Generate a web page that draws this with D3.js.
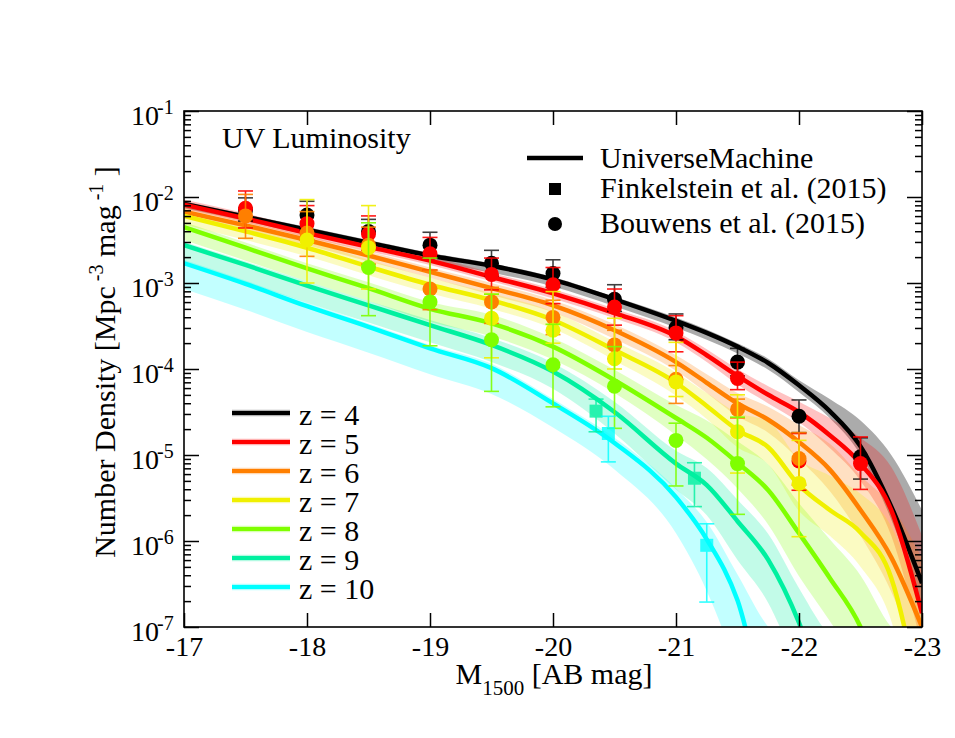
<!DOCTYPE html>
<html>
<head>
<meta charset="utf-8">
<script src="https://cdn.jsdelivr.net/npm/d3@7"></script>
<style>
  body { margin: 0; background: #fff; }
  text { font-family: "Liberation Serif", "Times New Roman", serif; fill: #000; }
</style>
</head>
<body>
<div id="vis"></div>
<script>
// frame constants
const FRAME_WIDTH = 955;
const FRAME_HEIGHT = 738;
const MARGINS = {left: 184, right: 33, top: 111, bottom: 111};
const VIS_WIDTH = FRAME_WIDTH - MARGINS.left - MARGINS.right;
const VIS_HEIGHT = FRAME_HEIGHT - MARGINS.top - MARGINS.bottom;

// redshifts and their colours
const REDSHIFTS = [4, 5, 6, 7, 8, 9, 10];
const COLORS = ["#000000", "#ff0000", "#ff7f00", "#f0f000", "#7fff00", "#00f0a0", "#00ffff"];

// magnitude grid of the model curves
const MAG_GRID = [-17, -17.5, -18, -18.5, -19, -19.5, -20, -20.5, -21, -21.25, -21.5, -21.75, -22, -22.25, -22.5, -22.75, -23];

// model curves, log10 number density
const MODEL_Z4  = [-2.08, -2.23, -2.38, -2.53, -2.68, -2.80, -2.96, -3.19, -3.44, -3.58, -3.74, -3.93, -4.19, -4.49, -4.90, -5.60, -6.49];
const MODEL_Z5  = [-2.09, -2.25, -2.42, -2.58, -2.74, -2.93, -3.12, -3.35, -3.62, -3.84, -4.08, -4.30, -4.50, -4.77, -5.10, -5.64, -6.84];
const MODEL_Z6  = [-2.17, -2.33, -2.50, -2.68, -2.87, -3.06, -3.26, -3.55, -3.92, -4.16, -4.40, -4.59, -4.85, -5.17, -5.64, -6.19, -7.00];
const MODEL_Z7  = [-2.22, -2.40, -2.59, -2.81, -3.02, -3.20, -3.43, -3.78, -4.16, -4.43, -4.71, -4.91, -5.35, -5.64, -5.90, -6.43, -8.00];
const MODEL_Z8  = [-2.35, -2.59, -2.83, -3.06, -3.30, -3.47, -3.74, -4.13, -4.57, -4.80, -5.09, -5.41, -5.91, -6.43, -7.00, -8.00, -8.50];
const MODEL_Z9  = [-2.56, -2.79, -3.03, -3.26, -3.49, -3.72, -4.03, -4.50, -5.10, -5.35, -5.77, -6.22, -6.95, -8.00, -8.50, -9.00, -9.50];
const MODEL_Z10 = [-2.77, -3.01, -3.27, -3.51, -3.76, -3.99, -4.40, -4.86, -5.49, -5.98, -6.69, -8.00, -8.50, -9.00, -9.50, -10.0, -10.5];
const MODELS = [MODEL_Z4, MODEL_Z5, MODEL_Z6, MODEL_Z7, MODEL_Z8, MODEL_Z9, MODEL_Z10];

// model uncertainty, dex above / below the curve
const BAND_UP = [
  [0.03, 0.03, 0.03, 0.03, 0.03, 0.03, 0.03, 0.03, 0.04, 0.04, 0.04, 0.05, 0.06, 0.14, 0.30, 0.60, 0.85],
  [0.06, 0.06, 0.05, 0.05, 0.05, 0.05, 0.05, 0.05, 0.06, 0.07, 0.08, 0.10, 0.12, 0.20, 0.30, 0.50, 0.90],
  [0.05, 0.05, 0.05, 0.05, 0.05, 0.06, 0.06, 0.07, 0.08, 0.10, 0.12, 0.15, 0.20, 0.30, 0.40, 0.60, 0.80],
  [0.08, 0.08, 0.08, 0.08, 0.08, 0.08, 0.10, 0.10, 0.12, 0.15, 0.20, 0.30, 0.30, 0.40, 0.45, 0.60, 1.20],
  [0.06, 0.06, 0.06, 0.07, 0.08, 0.10, 0.10, 0.12, 0.15, 0.20, 0.25, 0.30, 0.35, 0.45, 0.60, 1.00, 1.30],
  [0.04, 0.04, 0.05, 0.05, 0.06, 0.08, 0.10, 0.12, 0.15, 0.20, 0.25, 0.30, 0.40, 0.90, 1.20, 1.20, 1.20],
  [0.04, 0.04, 0.04, 0.04, 0.04, 0.05, 0.05, 0.06, 0.10, 0.20, 0.30, 1.00, 1.20, 1.20, 1.20, 1.20, 1.20]
];
const BAND_DN = [
  [0.05, 0.05, 0.06, 0.06, 0.07, 0.08, 0.08, 0.08, 0.08, 0.08, 0.08, 0.08, 0.08, 0.08, 0.10, 0.15, 0.25],
  [0.05, 0.05, 0.05, 0.05, 0.05, 0.05, 0.06, 0.06, 0.07, 0.08, 0.10, 0.10, 0.12, 0.15, 0.20, 0.30, 0.40],
  [0.06, 0.06, 0.06, 0.07, 0.07, 0.08, 0.08, 0.10, 0.10, 0.12, 0.15, 0.15, 0.20, 0.25, 0.30, 0.40, 0.50],
  [0.10, 0.10, 0.10, 0.10, 0.10, 0.10, 0.10, 0.12, 0.15, 0.15, 0.20, 0.20, 0.30, 0.30, 0.40, 0.50, 0.50],
  [0.15, 0.15, 0.15, 0.15, 0.15, 0.15, 0.15, 0.15, 0.20, 0.25, 0.30, 0.40, 0.50, 0.50, 0.50, 0.50, 0.50],
  [0.20, 0.20, 0.20, 0.20, 0.20, 0.20, 0.20, 0.25, 0.30, 0.35, 0.45, 0.50, 0.60, 0.60, 0.60, 0.60, 0.60],
  [0.30, 0.30, 0.30, 0.30, 0.30, 0.30, 0.28, 0.31, 0.42, 0.60, 0.80, 0.50, 0.50, 0.50, 0.50, 0.50, 0.50]
];

// Bouwens et al. (2015): [M1500, log density, log upper, log lower]
const BOUWENS_Z4 = [[-17.5, -2.15, -2.01, -2.28], [-18, -2.21, -2.05, -2.38], [-18.5, -2.40, -2.26, -2.55],
  [-19, -2.56, -2.41, -2.70], [-19.5, -2.77, -2.62, -2.92], [-20, -2.89, -2.73, -3.05], [-20.5, -3.19, -3.02, -3.33],
  [-21, -3.52, -3.36, -3.66], [-21.5, -3.92, -3.76, -4.08], [-22, -4.55, -4.36, -4.74], [-22.5, -5.02, -4.80, -5.28]];
const BOUWENS_Z5 = [[-17.5, -2.13, -1.93, -2.36], [-18, -2.31, -2.10, -2.50], [-18.5, -2.43, -2.22, -2.62],
  [-19, -2.66, -2.47, -2.85], [-19.5, -2.90, -2.71, -3.08], [-20, -3.02, -2.82, -3.24], [-20.5, -3.28, -3.07, -3.49],
  [-21, -3.58, -3.38, -3.80], [-21.5, -4.11, -3.92, -4.24], [-22, -5.07, -4.75, -5.41], [-22.5, -5.10, -4.79, -5.40]];
const BOUWENS_Z6 = [[-17.5, -2.22, -1.97, -2.48], [-18, -2.42, -2.17, -2.69], [-18.5, -2.56, -2.35, -2.78],
  [-19, -3.07, -2.85, -3.31], [-19.5, -3.22, -3.05, -3.47], [-20, -3.40, -3.20, -3.60], [-20.5, -3.72, -3.55, -3.88],
  [-21, -4.12, -3.96, -4.40], [-21.5, -4.47, -4.35, -4.57], [-22, -5.04, -4.74, -5.35]];
const BOUWENS_Z7 = [[-18, -2.50, -2.03, -3.00], [-18.5, -2.59, -2.10, -3.07], [-19.5, -3.41, -3.13, -3.87],
  [-20, -3.55, -3.10, -3.70], [-20.5, -3.88, -3.41, -4.00], [-21, -4.15, -3.69, -4.32],
  [-21.5, -4.73, -4.30, -5.21], [-22, -5.33, -4.83, -5.95]];
const BOUWENS_Z8 = [[-18.5, -2.82, -2.30, -3.38], [-19, -3.22, -2.71, -3.73], [-19.5, -3.66, -3.13, -4.26],
  [-20, -3.95, -3.48, -4.44], [-20.5, -4.20, -3.74, -4.69], [-21, -4.83, -4.63, -5.36], [-21.5, -5.10, -4.56, -5.69]];
const BOUWENS = [BOUWENS_Z4, BOUWENS_Z5, BOUWENS_Z6, BOUWENS_Z7, BOUWENS_Z8, [], []];

// Finkelstein et al. (2015)
const FINKEL_Z9 = [[-20.35, -4.49, -4.35, -4.73], [-21.15, -5.27, -5.09, -5.60]];
const FINKEL_Z10 = [[-20.45, -4.75, -4.55, -5.08], [-21.25, -6.05, -5.80, -6.71]];
const FINKEL = [[], [], [], [], [], FINKEL_Z9, FINKEL_Z10];

// axis ticks
const X_TICKS = [-17, -18, -19, -20, -21, -22, -23];
const Y_DECADES = [-7, -6, -5, -4, -3, -2, -1];

// svg frame
const FRAME = d3.select("#vis")
                .append("svg")
                  .attr("width", FRAME_WIDTH)
                  .attr("height", FRAME_HEIGHT);

FRAME.append("rect").attr("width", FRAME_WIDTH).attr("height", FRAME_HEIGHT).attr("fill", "#fff");

// scales
const X_SCALE = d3.scaleLinear()
                  .domain([-17, -23])
                  .range([MARGINS.left, MARGINS.left + VIS_WIDTH]);
const Y_SCALE = d3.scaleLog()
                  .domain([1e-7, 1e-1])
                  .range([MARGINS.top + VIS_HEIGHT, MARGINS.top]);

FRAME.append("clipPath").attr("id", "plotclip")
  .append("rect")
    .attr("x", MARGINS.left).attr("y", MARGINS.top)
    .attr("width", VIS_WIDTH).attr("height", VIS_HEIGHT);

const PLOT = FRAME.append("g").attr("clip-path", "url(#plotclip)");

// bands first, then curves, then data
const band = d3.area()
  .x((d) => X_SCALE(d.m))
  .y0((d) => Y_SCALE(Math.pow(10, d.v - d.dn)))
  .y1((d) => Y_SCALE(Math.pow(10, d.v + d.up)))
  .curve(d3.curveMonotoneX);

const curve = d3.line()
  .x((d) => X_SCALE(d.m))
  .y((d) => Y_SCALE(Math.pow(10, d.v)))
  .curve(d3.curveMonotoneX);

REDSHIFTS.forEach((z, i) => {
  const pts = MAG_GRID.map((m, j) => ({m: m, v: MODELS[i][j], up: BAND_UP[i][j], dn: BAND_DN[i][j]}));
  PLOT.append("path")
    .datum(pts)
    .attr("d", band)
    .attr("fill", COLORS[i])
    .attr("fill-opacity", i == 0 ? 0.33 : 0.24)
    .attr("stroke", "none");
});

REDSHIFTS.forEach((z, i) => {
  const pts = MAG_GRID.map((m, j) => ({m: m, v: MODELS[i][j]}));
  PLOT.append("path")
    .datum(pts)
    .attr("d", curve)
    .attr("fill", "none")
    .attr("stroke", COLORS[i])
    .attr("stroke-width", 4.5);
});

// error bars and symbols
const CAP = 7.5;
function drawBars(g, rows, color) {
  rows.forEach((r) => {
    const x = X_SCALE(r[0]);
    const yHi = Y_SCALE(Math.pow(10, r[2]));
    const yLo = Y_SCALE(Math.pow(10, r[3]));
    g.append("line").attr("x1", x).attr("x2", x).attr("y1", yHi).attr("y2", yLo)
      .attr("stroke", color).attr("stroke-width", 1.6);
    [yHi, yLo].forEach((y) => {
      g.append("line").attr("x1", x - CAP).attr("x2", x + CAP).attr("y1", y).attr("y2", y)
        .attr("stroke", color).attr("stroke-width", 1.6);
    });
  });
}

REDSHIFTS.forEach((z, i) => {
  const bars = PLOT.append("g").attr("opacity", i == 0 ? 0.75 : 0.9);
  drawBars(bars, BOUWENS[i], COLORS[i]);
  PLOT.append("g").selectAll("circle")
    .data(BOUWENS[i])
    .enter()
    .append("circle")
      .attr("cx", (d) => X_SCALE(d[0]))
      .attr("cy", (d) => Y_SCALE(Math.pow(10, d[1])))
      .attr("r", 7.5)
      .attr("fill", COLORS[i]);

  const f = PLOT.append("g").attr("opacity", 0.8);
  drawBars(f, FINKEL[i], COLORS[i]);
  f.selectAll("rect")
    .data(FINKEL[i])
    .enter()
    .append("rect")
      .attr("x", (d) => X_SCALE(d[0]) - 6.5)
      .attr("y", (d) => Y_SCALE(Math.pow(10, d[1])) - 6.5)
      .attr("width", 13)
      .attr("height", 13)
      .attr("fill", COLORS[i]);
});

// axes with inward ticks
const Y_MINOR = [];
Y_DECADES.slice(0, -1).forEach((d) => {
  for (let k = 2; k <= 9; k++) { Y_MINOR.push(k * Math.pow(10, d)); }
});
const Y_MAJOR = Y_DECADES.map((d) => Math.pow(10, d));

const xBottom = FRAME.append("g")
  .attr("transform", "translate(0," + (MARGINS.top + VIS_HEIGHT) + ")")
  .call(d3.axisBottom(X_SCALE).tickValues(X_TICKS).tickSize(-14).tickPadding(9).tickFormat((d) => d));
xBottom.selectAll("text").attr("font-size", "28px").style("font-family", "Liberation Serif");

FRAME.append("g")
  .attr("transform", "translate(0," + MARGINS.top + ")")
  .call(d3.axisTop(X_SCALE).tickValues(X_TICKS).tickSize(-14).tickFormat(""));

FRAME.append("g")
  .attr("transform", "translate(" + MARGINS.left + ",0)")
  .call(d3.axisLeft(Y_SCALE).tickValues(Y_MAJOR).tickSize(-15).tickFormat(""));
FRAME.append("g")
  .attr("transform", "translate(" + MARGINS.left + ",0)")
  .call(d3.axisLeft(Y_SCALE).tickValues(Y_MINOR).tickSize(-7).tickFormat(""));
FRAME.append("g")
  .attr("transform", "translate(" + (MARGINS.left + VIS_WIDTH) + ",0)")
  .call(d3.axisRight(Y_SCALE).tickValues(Y_MAJOR).tickSize(-15).tickFormat(""));
FRAME.append("g")
  .attr("transform", "translate(" + (MARGINS.left + VIS_WIDTH) + ",0)")
  .call(d3.axisRight(Y_SCALE).tickValues(Y_MINOR).tickSize(-7).tickFormat(""));

FRAME.selectAll(".domain").remove();
FRAME.selectAll(".tick line").attr("stroke", "#000").attr("stroke-width", 1.5);

// frame box
FRAME.append("rect")
  .attr("x", MARGINS.left).attr("y", MARGINS.top)
  .attr("width", VIS_WIDTH).attr("height", VIS_HEIGHT)
  .attr("fill", "none").attr("stroke", "#000").attr("stroke-width", 1.6);

// y tick labels 10^n
Y_DECADES.forEach((d) => {
  const y = Y_SCALE(Math.pow(10, d));
  FRAME.append("text").attr("x", 159).attr("y", y + 14)
    .attr("text-anchor", "end").attr("font-size", "28px").text("10");
  FRAME.append("text").attr("x", 157).attr("y", y + 3)
    .attr("font-size", "20px").text(d);
});

// axis titles
const xTitle = FRAME.append("text")
  .attr("x", 554).attr("y", 684)
  .attr("text-anchor", "middle").attr("font-size", "30px");
xTitle.append("tspan").text("M");
xTitle.append("tspan").attr("font-size", "21px").attr("dy", 11).text("1500");
xTitle.append("tspan").attr("dy", -11).text(" [AB mag]");

const yTitle = FRAME.append("text")
  .attr("transform", "translate(115,362) rotate(-90)")
  .attr("text-anchor", "middle").attr("font-size", "30px");
yTitle.append("tspan").text("Number Density [Mpc");
yTitle.append("tspan").attr("font-size", "20px").attr("dy", -12).text(" -3");
yTitle.append("tspan").attr("dy", 12).text("  mag");
yTitle.append("tspan").attr("font-size", "20px").attr("dy", -12).text(" -1");
yTitle.append("tspan").attr("dy", 12).text(" ]");

FRAME.append("text").attr("x", 222).attr("y", 148)
  .attr("font-size", "30px").text("UV Luminosity");

// legend, top right
FRAME.append("line").attr("x1", 527).attr("x2", 583).attr("y1", 158).attr("y2", 158)
  .attr("stroke", "#000").attr("stroke-width", 4.5);
FRAME.append("text").attr("x", 600).attr("y", 168).attr("font-size", "30px").text("UniverseMachine");
FRAME.append("rect").attr("x", 549).attr("y", 183).attr("width", 12).attr("height", 12).attr("fill", "#000");
FRAME.append("text").attr("x", 600).attr("y", 198).attr("font-size", "30px").text("Finkelstein et al. (2015)");
FRAME.append("circle").attr("cx", 555).attr("cy", 224).attr("r", 7).attr("fill", "#000");
FRAME.append("text").attr("x", 600).attr("y", 233).attr("font-size", "30px").text("Bouwens et al. (2015)");

// legend, redshifts
REDSHIFTS.forEach((z, i) => {
  const y = 413 + i * 29;
  FRAME.append("line").attr("x1", 232).attr("x2", 290).attr("y1", y).attr("y2", y)
    .attr("stroke", COLORS[i]).attr("stroke-opacity", 0.3).attr("stroke-width", 6.5);
  FRAME.append("line").attr("x1", 232).attr("x2", 290).attr("y1", y).attr("y2", y)
    .attr("stroke", COLORS[i]).attr("stroke-width", 4);
  FRAME.append("text").attr("x", 299).attr("y", y + 12)
    .attr("font-size", "30px").text("z = " + z);
});
</script>
</body>
</html>
